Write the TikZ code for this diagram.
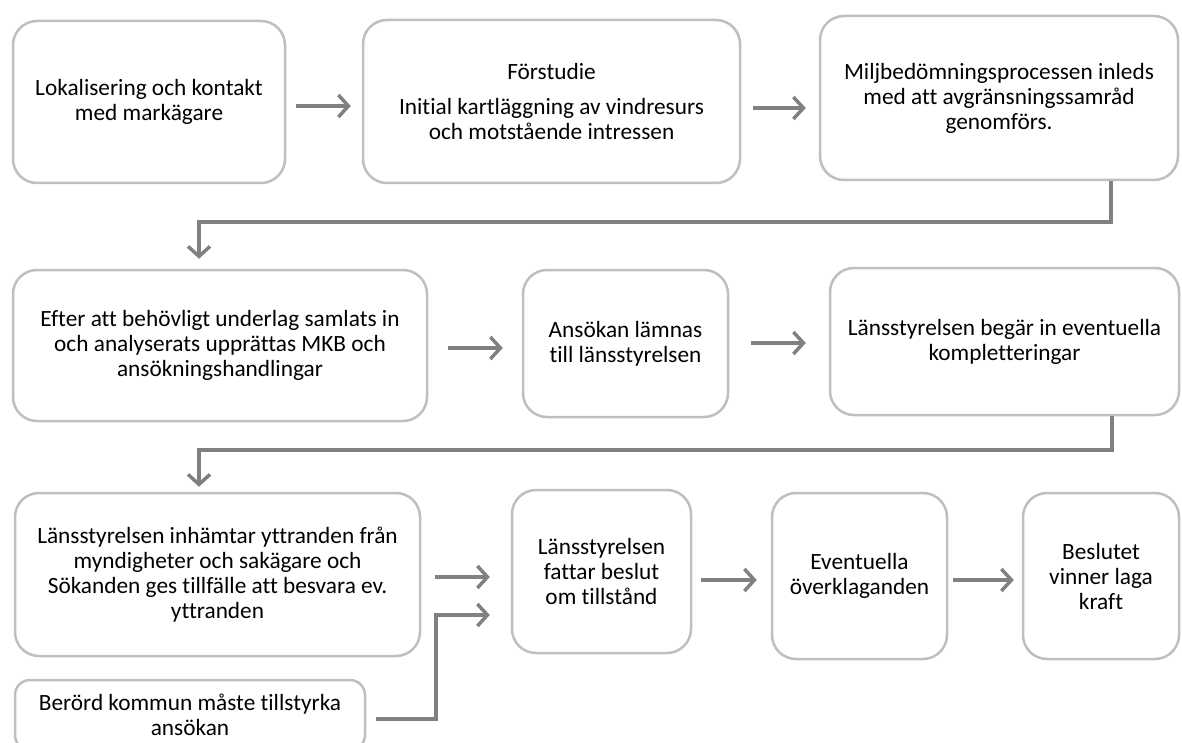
\documentclass[tikz,border=0pt]{standalone}
\usepackage{fontspec}
\setmainfont{Carlito}[Ligatures=NoCommon]
\usetikzlibrary{arrows.meta}

\definecolor{boxgray}{RGB}{191,191,191}
\definecolor{flowgray}{RGB}{128,128,128}

\tikzset{
    stepbox/.style={draw=boxgray, line width=2.5pt, rounded corners=24pt, align=center,
        inner sep=0pt, text=black, font=\fontsize{23.3}{25}\selectfont},
    flow/.style={draw=flowgray, line width=3.5pt, -{Straight Barb[length=10pt,width=22pt]}}
}

\begin{document}
\begin{tikzpicture}[x=1pt, y=-1pt]
                \useasboundingbox (0, 0) rectangle (1182, 743);
                \clip (0, 0) rectangle (1182, 743);
                \node[stepbox, minimum width=272, minimum height=162] (lokal) at (149, 102) {Lokalisering och kontakt\\med markägare};
                \node[stepbox, minimum width=377, minimum height=163] (forstudie) at (551.5, 101.5) {Förstudie\\[10pt]Initial kartläggning av vindresurs\\och motstående intressen};
                \node[stepbox, minimum width=358, minimum height=164] (samrad) at (999, 98) {Miljbedömningsprocessen inleds\\med att avgränsningssamråd\\genomförs.};
                \node[stepbox, minimum width=414, minimum height=151] (mkb) at (220, 345.5) {Efter att behövligt underlag samlats in\\och analyserats upprättas MKB och\\ansökningshandlingar};
                \node[stepbox, minimum width=205, minimum height=147] (ansokan) at (625.5, 343.5) {Ansökan lämnas\\till länsstyrelsen};
                \node[stepbox, minimum width=349, minimum height=147] (komplett) at (1004.5, 341.5) {Länsstyrelsen begär in eventuella\\kompletteringar};
                \node[stepbox, minimum width=405, minimum height=163] (yttranden) at (217.5, 574.5) {Länsstyrelsen inhämtar yttranden från\\myndigheter och sakägare och\\Sökanden ges tillfälle att besvara ev.\\yttranden};
                \node[stepbox, minimum width=179, minimum height=163] (beslut) at (601.5, 571.5) {Länsstyrelsen\\fattar beslut\\om tillstånd};
                \node[stepbox, minimum width=175, minimum height=166] (overklag) at (859.5, 576) {Eventuella\\överklaganden};
                \node[stepbox, minimum width=156, minimum height=166] (kraft) at (1101, 576) {Beslutet\\vinner laga\\kraft};
                \node[stepbox, rounded corners=15pt, minimum width=350, minimum height=70] (kommun) at (190, 715) {Berörd kommun måste tillstyrka\\ansökan};
                \coordinate (turn1a) at (1111, 222);
                \coordinate (turn1b) at (199, 222);
                \coordinate (turn2a) at (1112, 450);
                \coordinate (turn2b) at (199, 450);
                \coordinate (turn3a) at (436, 719);
                \coordinate (turn3b) at (436, 615);
                \draw[flow, shorten <=10pt, shorten >=11pt] (lokal.east |- 0,106) -- (forstudie.west |- 0,106);
                \draw[flow, shorten <=12pt, shorten >=13pt] (forstudie.east |- 0,108) -- (samrad.west |- 0,108);
                \draw[flow, shorten >=10pt] (samrad.south -| turn1a) -- (turn1a) -- (turn1b) -- (mkb.north -| turn1b);
                \draw[flow, shorten <=20pt, shorten >=19pt] (mkb.east |- 0,348) -- (ansokan.west |- 0,348);
                \draw[flow, shorten <=22pt, shorten >=23pt] (ansokan.east |- 0,343) -- (komplett.west |- 0,343);
                \draw[flow, shorten >=5pt] (komplett.south -| turn2a) -- (turn2a) -- (turn2b) -- (yttranden.north -| turn2b);
                \draw[flow, shorten <=14pt, shorten >=21pt] (yttranden.east |- 0,577) -- (beslut.west |- 0,577);
                \draw[flow, shorten <=10pt] (kommun.east |- turn3a) -- (turn3a) -- (turn3b) -- ([xshift=-21pt]beslut.west |- turn3b);
                \draw[flow, shorten <=9pt, shorten >=14pt] (beslut.east |- 0,580) -- (overklag.west |- 0,580);
                \draw[flow, shorten <=5pt, shorten >=8pt] (overklag.east |- 0,580) -- (kraft.west |- 0,580);
\end{tikzpicture}
\end{document}
